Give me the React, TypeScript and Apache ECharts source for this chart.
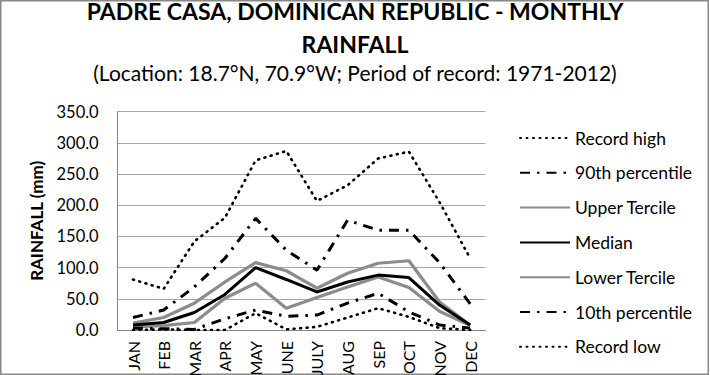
import React, { useEffect, useRef } from "react";
import * as echarts from "echarts";

const months = ["JAN", "FEB", "MAR", "APR", "MAY", "JUNE", "JULY", "AUG", "SEP", "OCT", "NOV", "DEC"];
const recordHigh = [81, 66, 142, 180, 272, 287, 207, 232, 275, 286, 205, 115];
const p90 = [20, 32, 69, 115, 179, 128, 96, 176, 160, 160, 108, 42];
const upperTercile = [11, 20, 43, 77, 108, 95, 67, 91, 107, 111, 45, 8];
const median = [8, 12, 28, 57, 100, 81, 61, 77, 88, 84, 40, 8];
const lowerTercile = [5, 7, 12, 51, 75, 35, 52, 69, 85, 68, 30, 7];
const p10 = [3, 2, 1, 18, 32, 22, 24, 43, 59, 29, 8, 3];
const recordLow = [0, 1, 0, 0, 27, 1, 5, 20, 35, 21, 3, 0];

const FONT = "Lato, 'Open Sans', sans-serif";
const GRAY = "#8c8c8c";
const DOT = { type: [1, 5.5], cap: "round", width: 2.6, color: "#000" };
const DASHDOT = { type: [10, 7, 2.5, 7], width: 3, color: "#000" };

export default function App() {
  const ref = useRef<HTMLDivElement>(null);
  useEffect(() => {
    const chart = echarts.init(ref.current!, null, { renderer: "svg" });
    const mk = (name: string, data: number[], lineStyle: any, z = 2) => ({
      name,
      type: "line",
      data,
      symbol: "none",
      lineStyle,
      itemStyle: { color: lineStyle.color },
      z,
    });
    chart.setOption({
      animation: false,
      backgroundColor: "#fff",
      title: [
        {
          text: "PADRE CASA, DOMINICAN REPUBLIC - MONTHLY",
          left: "center",
          top: -6,
          textStyle: { fontFamily: FONT, fontWeight: "bold", fontSize: 23, color: "#000" },
        },
        {
          text: "RAINFALL",
          left: "center",
          top: 27,
          textStyle: { fontFamily: FONT, fontWeight: "bold", fontSize: 23, color: "#000" },
        },
        {
          text: "(Location: 18.7°N, 70.9°W; Period of record: 1971-2012)",
          left: "center",
          top: 57,
          textStyle: { fontFamily: FONT, fontWeight: "normal", fontSize: 21, color: "#000" },
        },
      ],
      graphic: [
        {
          type: "rect",
          shape: { x: 0.75, y: 0.75, width: 707.5, height: 373.5 },
          style: { fill: "none", stroke: "#888", lineWidth: 1.5 },
          silent: true,
        },
      ],
      legend: {
        orient: "vertical",
        left: 514,
        top: 124,
        itemWidth: 50,
        itemHeight: 18,
        itemGap: 16.8,
        itemStyle: { opacity: 0 },
        textStyle: { fontFamily: FONT, fontSize: 17.5, color: "#000", padding: [0, 0, 0, 0] },
        data: ["Record high", "90th percentile", "Upper Tercile", "Median", "Lower Tercile", "10th percentile", "Record low"],
      },
      grid: { left: 117.7, right: 224.5, top: 111.7, bottom: 45, outerBoundsMode: "none", containLabel: false },
      xAxis: {
        type: "category",
        data: months,
        boundaryGap: true,
        axisLine: { lineStyle: { color: "#868686", width: 1 } },
        axisTick: { show: false },
        axisLabel: { rotate: 90, margin: 11, fontFamily: FONT, fontSize: 16, color: "#000" },
      },
      yAxis: {
        type: "value",
        min: 0,
        max: 350,
        interval: 50,
        name: "RAINFALL (mm)",
        nameLocation: "middle",
        nameGap: 73,
        nameTextStyle: { fontFamily: FONT, fontWeight: "bold", fontSize: 17, color: "#000" },
        axisLine: { show: true, lineStyle: { color: "#868686", width: 1 } },
        axisTick: { show: false },
        splitLine: { lineStyle: { color: "#a6a6a6", width: 1 } },
        axisLabel: {
          fontFamily: FONT,
          fontSize: 16.5,
          color: "#000",
          margin: 19,
          formatter: (v: number) => v.toFixed(1),
        },
      },
      series: [
        mk("Record high", recordHigh, DOT),
        mk("90th percentile", p90, DASHDOT),
        mk("Upper Tercile", upperTercile, { color: GRAY, width: 3.2 }),
        mk("Median", median, { color: "#000", width: 3 }, 3),
        mk("Lower Tercile", lowerTercile, { color: GRAY, width: 3.2 }),
        mk("10th percentile", p10, DASHDOT),
        mk("Record low", recordLow, DOT),
      ],
    });
    return () => chart.dispose();
  }, []);
  return <div ref={ref} style={{ position: "fixed", left: 0, top: 0, width: 710, height: 375 }} />;
}
